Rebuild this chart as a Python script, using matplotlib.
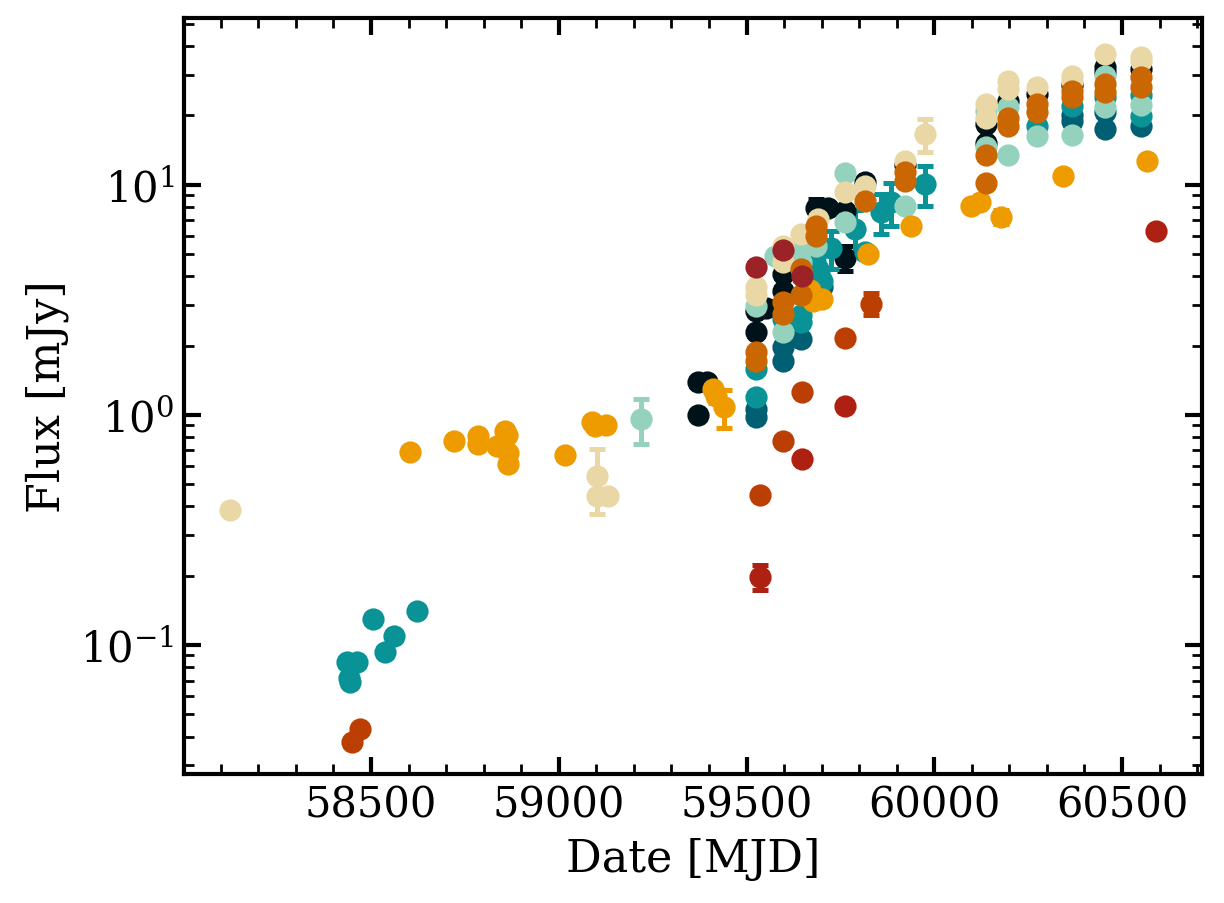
import matplotlib
matplotlib.use("Agg")
import matplotlib.pyplot as plt
import numpy as np
from matplotlib.ticker import AutoMinorLocator

plt.rcParams['font.family'] = ['DejaVu Serif']
plt.rcParams['mathtext.fontset'] = 'dejavuserif'

colors = ["#001219", "#005f73", "#0a9396", "#94d2bd", "#e9d8a6",
          "#ee9b00", "#ca6702", "#bb3e03", "#ae2012", "#9b2226"]

# series: (mjd, flux, err)
black_mjd = [59370, 59394, 59370, 59524, 59524, 59551, 59596, 59596, 59686, 59718,
             59763, 59763, 59816, 59923, 60138, 60138, 60197, 60274, 60367, 60455, 60455, 60551]
black_flux = [1.39, 1.39, 1.0, 2.83, 2.30, 2.92, 4.1, 3.46, 7.9, 7.9,
              7.7, 4.8, 10.3, 12.2, 18.4, 15.1, 23.2, 24.9, 27.0, 32.6, 31.0, 31.9]
black_err = [0.05, 0.05, 0.04, 0.1, 0.08, 0.1, 0.15, 0.12, 0.8, 0.3,
             0.3, 0.6, 0.4, 0.5, 0.7, 0.6, 0.9, 1.0, 1.0, 1.2, 1.2, 1.2]

dteal_mjd = [59524, 59524, 59596, 59596, 59646, 59691, 59700, 60367, 60367, 60455, 60455, 60551]
dteal_flux = [1.06, 0.98, 1.98, 1.72, 2.14, 3.4, 3.6, 20.0, 19.0, 20.7, 17.5, 17.9]
dteal_err = [0.04, 0.04, 0.08, 0.07, 0.08, 0.15, 0.15, 0.8, 0.8, 0.8, 0.7, 0.7]

teal_mjd = [58436, 58463, 58441, 58444, 58505, 58537, 58561, 58622, 59524, 59524,
            59596, 59646, 59646, 59686, 59691, 59700, 59726, 59790, 59816, 59859,
            59886, 59976, 60274, 60367, 60455, 60551, 60551]
teal_flux = [0.084, 0.084, 0.072, 0.069, 0.130, 0.093, 0.109, 0.141, 1.58, 1.19,
             2.6, 2.72, 2.53, 5.0, 4.3, 3.8, 5.3, 6.4, 5.1, 7.6,
             8.4, 10.1, 17.9, 22.0, 24.1, 24.5, 19.8]
teal_err = [0.003, 0.003, 0.003, 0.003, 0.005, 0.004, 0.004, 0.005, 0.06, 0.05,
            0.1, 0.1, 0.1, 0.6, 0.3, 0.3, 1.0, 1.4, 0.3, 1.5,
            1.8, 2.0, 0.7, 0.9, 1.0, 1.0, 0.8]

mint_mjd = [59218, 59524, 59577, 59596, 59646, 59646, 59686, 59763, 59763, 59923,
            60138, 60138, 60197, 60197, 60274, 60367, 60455, 60455, 60551]
mint_flux = [0.96, 2.98, 4.9, 2.30, 5.3, 4.6, 5.4, 11.2, 6.9, 8.1,
             21.0, 14.6, 21.8, 13.5, 16.3, 16.5, 29.8, 21.8, 22.1]
mint_err = [0.21, 0.1, 0.2, 0.1, 0.2, 0.2, 0.2, 0.4, 0.3, 0.3,
            0.8, 0.6, 0.8, 0.5, 0.6, 0.6, 1.1, 0.8, 0.8]

sand_mjd = [58125, 59101, 59101, 59130, 59524, 59524, 59596, 59596, 59646, 59691,
            59763, 59816, 59923, 59976, 60138, 60138, 60197, 60197, 60274, 60367,
            60367, 60455, 60551, 60551]
sand_flux = [0.386, 0.54, 0.445, 0.445, 3.6, 3.3, 5.4, 4.6, 6.1, 7.1,
             9.3, 9.9, 12.7, 16.6, 22.5, 19.4, 28.3, 26.1, 26.7, 29.8,
             28.3, 37.1, 36.0, 34.3]
sand_err = [0.015, 0.17, 0.02, 0.02, 0.12, 0.1, 0.2, 0.15, 0.2, 0.25,
            0.3, 0.3, 0.5, 2.7, 0.8, 0.7, 1.0, 0.9, 0.9, 1.0,
            1.0, 1.3, 1.3, 1.2]

orange_mjd = [58604, 58721, 58785, 58785, 58835, 58856, 58862, 58864, 58864, 59016,
              59088, 59096, 59125, 59410, 59418, 59441, 59670, 59678, 59700, 59824,
              59939, 60098, 60122, 60178, 60343, 60566]
orange_flux = [0.69, 0.77, 0.81, 0.75, 0.73, 0.85, 0.82, 0.68, 0.61, 0.67,
               0.93, 0.89, 0.90, 1.30, 1.21, 1.08, 3.5, 3.13, 3.2, 5.0,
               6.6, 8.1, 8.4, 7.25, 10.9, 12.7]
orange_err = [0.02, 0.02, 0.02, 0.02, 0.02, 0.03, 0.03, 0.02, 0.02, 0.02,
              0.03, 0.03, 0.03, 0.05, 0.08, 0.2, 0.1, 0.1, 0.1, 0.2,
              0.2, 0.3, 0.3, 0.5, 0.4, 0.4]

dorange_mjd = [59524, 59524, 59596, 59596, 59646, 59646, 59686, 59686, 59816, 59923,
               59923, 60138, 60138, 60197, 60197, 60274, 60274, 60367, 60367, 60455,
               60455, 60551, 60551]
dorange_flux = [1.88, 1.72, 3.1, 2.75, 4.3, 3.3, 6.6, 6.0, 8.5, 11.4,
                10.4, 13.4, 10.2, 19.4, 17.9, 22.5, 20.7, 25.6, 24.1, 27.5,
                25.3, 29.5, 26.7]
dorange_err = [0.07, 0.06, 0.1, 0.1, 0.15, 0.12, 0.25, 0.2, 0.3, 0.4,
               0.4, 0.5, 0.4, 0.7, 0.6, 0.8, 0.7, 0.9, 0.9, 1.0,
               0.9, 1.0, 0.9]

rust_mjd = [58449, 58471, 59537, 59598, 59649, 59763, 59832]
rust_flux = [0.038, 0.043, 0.45, 0.77, 1.26, 2.16, 3.04]
rust_err = [0.001, 0.001, 0.02, 0.03, 0.05, 0.08, 0.33]

red_mjd = [59537, 59649, 59763, 60590]
red_flux = [0.198, 0.64, 1.09, 6.3]
red_err = [0.025, 0.02, 0.04, 0.2]

dred_mjd = [59524, 59596, 59649]
dred_flux = [4.4, 5.2, 4.0]
dred_err = [0.15, 0.2, 0.15]

series = [
    (black_mjd, black_flux, black_err),
    (dteal_mjd, dteal_flux, dteal_err),
    (teal_mjd, teal_flux, teal_err),
    (mint_mjd, mint_flux, mint_err),
    (sand_mjd, sand_flux, sand_err),
    (orange_mjd, orange_flux, orange_err),
    (dorange_mjd, dorange_flux, dorange_err),
    (rust_mjd, rust_flux, rust_err),
    (red_mjd, red_flux, red_err),
    (dred_mjd, dred_flux, dred_err),
]

fig = plt.figure(figsize=(6.12, 4.52), dpi=200)
ax = fig.add_axes([184/1224, 1-775/904, (1202-184)/1224, (775-19)/904])

for (m, f, e), c in zip(series, colors):
    ax.errorbar(m, f, yerr=e, fmt='o', color=c, ecolor=c, ms=7,
                elinewidth=1.8, capsize=3, capthick=1.8, zorder=2)

ax.set_yscale('log')
ax.set_ylim(0.0275, 53)
ax.set_xlim(58002, 60713)
ax.set_xlabel('Date [MJD]', fontsize=16)
ax.set_ylabel('Flux [mJy]', fontsize=16)
ax.xaxis.set_minor_locator(AutoMinorLocator())
ax.tick_params(which='both', direction='in', top=True, right=True, labelsize=15)
ax.tick_params(which='major', length=6, width=1.5)
ax.tick_params(which='minor', length=3.5, width=1.0)
for s in ax.spines.values():
    s.set_linewidth(1.5)

fig.savefig('out.png', dpi=200)
